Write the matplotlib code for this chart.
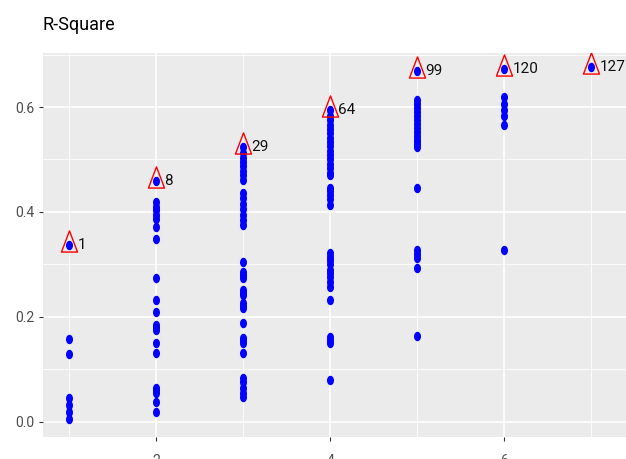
import numpy as np
import matplotlib
matplotlib.use('Agg')
import matplotlib.pyplot as plt
from matplotlib.path import Path
from matplotlib import font_manager

# the original picture is horizontally squeezed, so prefer a narrow face
nomes = set(f.name for f in font_manager.fontManager.ttflist)
estreita = None
for nome in ['Liberation Sans Narrow', 'DejaVu Sans Condensed']:
    if nome in nomes:
        estreita = nome
        break
if estreita:
    plt.rcParams['font.family'] = [estreita, 'DejaVu Sans']
    tam_rot, tam_tit = 13, 14
else:
    plt.rcParams['font.family'] = ['Roboto', 'DejaVu Sans']
    tam_rot, tam_tit = 11, 13

# R-square values per number of variables
r2_1 = [0.337, 0.158, 0.130, 0.045, 0.032, 0.018, 0.006]
r2_2 = [0.459, 0.419, 0.410, 0.404, 0.395, 0.387, 0.372, 0.348, 0.274, 0.232,
        0.210, 0.185, 0.180, 0.175, 0.150, 0.131, 0.065, 0.060, 0.055, 0.038, 0.019]
r2_3 = [0.524, 0.512, 0.503, 0.495, 0.487, 0.478, 0.470, 0.461,
        0.436, 0.426, 0.416, 0.405, 0.395, 0.385, 0.375,
        0.305, 0.286, 0.280, 0.274, 0.251, 0.246, 0.242, 0.227, 0.220, 0.217,
        0.189, 0.160, 0.155, 0.150, 0.131,
        0.084, 0.075, 0.065, 0.055, 0.048]
r2_4 = [0.594, 0.583, 0.575, 0.566, 0.558, 0.550, 0.541, 0.533, 0.525, 0.516,
        0.508, 0.500, 0.492, 0.484, 0.475, 0.470,
        0.446, 0.440, 0.432, 0.425, 0.413,
        0.322, 0.315, 0.308, 0.300, 0.290, 0.283, 0.276, 0.266, 0.257, 0.232,
        0.162, 0.155, 0.150, 0.080]
r2_5 = [0.668, 0.613, 0.605, 0.598, 0.590, 0.583, 0.575, 0.568, 0.560, 0.552,
        0.545, 0.538, 0.535, 0.530, 0.524,
        0.446, 0.328, 0.320, 0.312, 0.293, 0.164]
r2_6 = [0.672, 0.619, 0.605, 0.594, 0.583, 0.566, 0.328]
r2_7 = [0.676]

grupos = [r2_1, r2_2, r2_3, r2_4, r2_5, r2_6, r2_7]
n_vars = [1, 2, 3, 4, 5, 6, 7]

# best model of each size and its index
melhor_idx = [1, 8, 29, 64, 99, 120, 127]
melhor_r2 = [0.337, 0.459, 0.524, 0.594, 0.668, 0.672, 0.676]

x_pts, y_pts = [], []
for i in range(len(grupos)):
    for v in grupos[i]:
        x_pts.append(n_vars[i])
        y_pts.append(v)

# squeezed shapes
t = np.linspace(0, 2*np.pi, 40)
elipse = Path(np.column_stack([0.74*np.cos(t), np.sin(t)]), closed=True)
triang = Path([(0, 1), (-0.55, -0.45), (0.55, -0.45), (0, 1)], closed=True)

fig = plt.figure(figsize=(6.26, 4.59), dpi=100)
ax = fig.add_axes([43/626, 22/459, 583/626, 384/459])
ax.set_facecolor('#EBEBEB')
for s in ax.spines.values():
    s.set_visible(False)

ax.set_xlim(0.70, 7.40)
ax.set_ylim(-0.029, 0.703)

ax.set_xticks([2, 4, 6])
ax.set_xticks([1, 3, 5, 7], minor=True)
ax.set_yticks([0.0, 0.2, 0.4, 0.6])
ax.set_yticks([0.1, 0.3, 0.5, 0.7], minor=True)
ax.set_yticklabels(['0.0', '0.2', '0.4', '0.6'])
ax.grid(which='major', color='white', linewidth=1.2)
ax.grid(which='minor', color='white', linewidth=0.6)
ax.set_axisbelow(True)
ax.tick_params(which='major', length=3, width=0.8, color='#333333',
               labelcolor='#4D4D4D', labelsize=10, pad=3)
ax.tick_params(axis='x', pad=9)
ax.tick_params(which='minor', length=0)

ax.plot(x_pts, y_pts, linestyle='none', marker=elipse, markersize=6.8,
        color='blue', markeredgewidth=0)
ax.plot(n_vars, melhor_r2, linestyle='none', marker=triang, markersize=21,
        markerfacecolor='none', markeredgecolor='red', markeredgewidth=1.0)

for i in range(len(n_vars)):
    ax.annotate(str(melhor_idx[i]), (n_vars[i], melhor_r2[i]),
                xytext=(6, 0), textcoords='offset points',
                ha='left', va='center', fontsize=tam_rot, color='#111111')

fig.text(43/626, 1 - 25/459, 'R-Square', ha='left', va='center',
         fontsize=tam_tit, color='black')

fig.savefig('out.png', dpi=100)
